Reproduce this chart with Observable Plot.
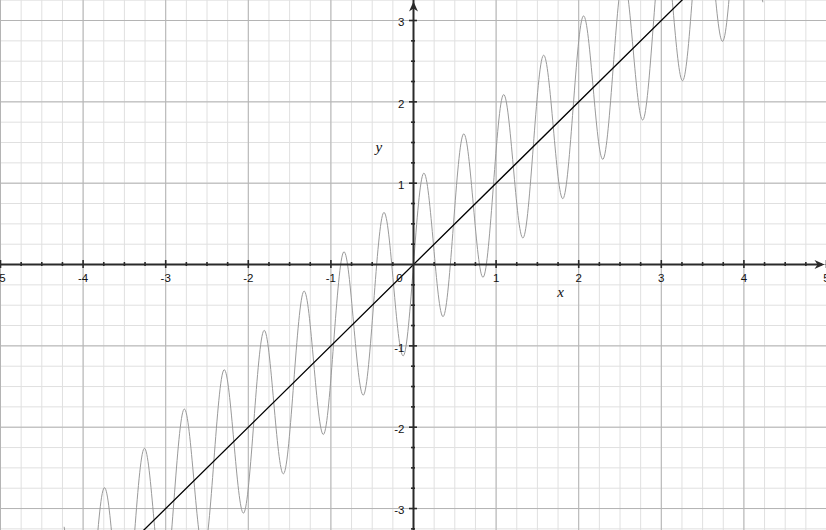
<!DOCTYPE html>
<html>
<head>
<meta charset="utf-8">
<script src="https://cdn.jsdelivr.net/npm/d3@7"></script>
<script src="https://cdn.jsdelivr.net/npm/@observablehq/plot@0.6"></script>
<style>
  html, body { margin: 0; padding: 0; background: #fff; }
  #chart svg { display: block; }
</style>
</head>
<body>
<div id="chart"></div>
<script>
// Axis extents
const xDomain = [-5, 5];
const yDomain = [-3.27, 3.246];

// Tick values and labels
const xMajor = [-5, -4, -3, -2, -1, 1, 2, 3, 4, 5];
const xLabels = ["-5", "-4", "-3", "-2", "-1", "1", "2", "3", "4", "5"];
const yMajor = [-3, -2, -1, 1, 2, 3];
const yLabels = ["-3", "-2", "-1", "1", "2", "3"];
const originLabel = "0";
const xTitle = "x";
const yTitle = "y";
const xTitlePos = [1.78, -0.345];
const yTitlePos = [-0.42, 1.44];

// Straight line y = x (two end points)
const lineX = [-4, 4];
const lineY = [-4, 4];

// Oscillating curve: peaks, troughs and crossings
const curveX = [
  -4.229, -4.108, -3.987, -3.867, -3.746, -3.625, -3.504, -3.383, -3.262, -3.142,
  -3.021, -2.900, -2.779, -2.658, -2.537, -2.417, -2.296, -2.175, -2.054, -1.933,
  -1.812, -1.692, -1.571, -1.450, -1.329, -1.208, -1.087, -0.967, -0.846, -0.725,
  -0.604, -0.483, -0.362, -0.242, -0.121, 0,
  0.121, 0.242, 0.362, 0.483, 0.604, 0.725, 0.846, 0.967, 1.087, 1.208,
  1.329, 1.450, 1.571, 1.692, 1.812, 1.933, 2.054, 2.175, 2.296, 2.417,
  2.537, 2.658, 2.779, 2.900, 3.021, 3.142, 3.262, 3.383, 3.504, 3.625,
  3.746, 3.867, 3.987, 4.108, 4.229
];
const curveY = [
  -3.229, -4.108, -4.987, -3.867, -2.746, -3.625, -4.504, -3.383, -2.262, -3.142,
  -4.021, -2.900, -1.779, -2.658, -3.537, -2.417, -1.296, -2.175, -3.054, -1.933,
  -0.812, -1.692, -2.571, -1.450, -0.329, -1.208, -2.087, -0.967, 0.154, -0.725,
  -1.604, -0.483, 0.638, -0.242, -1.121, 0,
  1.121, 0.242, -0.638, 0.483, 1.604, 0.725, -0.154, 0.967, 2.087, 1.208,
  0.329, 1.450, 2.571, 1.692, 0.812, 1.933, 3.054, 2.175, 1.296, 2.417,
  3.537, 2.658, 1.779, 2.900, 4.021, 3.142, 2.262, 3.383, 4.504, 3.625,
  2.746, 3.867, 4.987, 4.108, 3.229
];

const curve = curveX.map((x, i) => ({x, y: curveY[i]}));
const diag = lineX.map((x, i) => ({x, y: lineY[i]}));

// grid / tick positions derived from the scale
const minorX = d3.range(-20, 21).map(k => k / 4);
const minorY = d3.range(-13, 14).map(k => k / 4);
const minorXTicks = minorX.filter(v => v % 1 !== 0);
const minorYTicks = minorY.filter(v => v % 1 !== 0 && v > yDomain[0] && v < yDomain[1]);
const gridMajorX = xMajor.concat([0]);
const gridMajorY = yMajor.concat([0]);

const axisColor = "#2a2a2a";
const font = "'Liberation Sans', Arial, sans-serif";

// barbed arrowhead symbol, tip at the anchor, pointing up
const arrowHead = {
  draw(context) {
    context.moveTo(0, 0);
    context.lineTo(4.5, 10);
    context.lineTo(0, 7);
    context.lineTo(-4.5, 10);
    context.closePath();
  }
};

const chart = Plot.plot({
  width: 826,
  height: 530,
  margin: 0,
  style: {background: "#fff", fontFamily: font},
  x: {domain: xDomain, axis: null},
  y: {domain: yDomain, axis: null},
  marks: [
    Plot.ruleX(minorX, {x: d => d, stroke: "#e0e0e0", strokeWidth: 1}),
    Plot.ruleY(minorY, {y: d => d, stroke: "#e0e0e0", strokeWidth: 1}),
    Plot.ruleX(gridMajorX, {x: d => d, stroke: "#b4b4b4", strokeWidth: 1}),
    Plot.ruleY(gridMajorY, {y: d => d, stroke: "#b4b4b4", strokeWidth: 1}),
    Plot.line(curve, {x: "x", y: "y", curve: "natural", stroke: "#9a9a9a", strokeWidth: 1, clip: true}),
    Plot.line(diag, {x: "x", y: "y", stroke: "#000", strokeWidth: 1.3, clip: true}),
    // axes
    Plot.ruleY([0], {x1: xDomain[0], x2: xDomain[1], insetRight: 4, stroke: axisColor, strokeWidth: 2}),
    Plot.ruleX([0], {y1: yDomain[0], y2: yDomain[1], insetTop: 4, stroke: axisColor, strokeWidth: 2}),
    // arrowheads
    Plot.dot([0], {x: xDomain[1], y: 0, dx: -2, symbol: arrowHead, rotate: 90, fill: axisColor, stroke: "none"}),
    Plot.dot([0], {x: 0, y: yDomain[1], dy: 1, symbol: arrowHead, fill: axisColor, stroke: "none"}),
    // minor ticks
    Plot.ruleX(minorXTicks, {x: d => d, y1: 0, y2: 0, insetTop: -2, insetBottom: -2, stroke: axisColor, strokeWidth: 1.6}),
    Plot.ruleY(minorYTicks, {y: d => d, x1: 0, x2: 0, insetLeft: -2, insetRight: -2, stroke: axisColor, strokeWidth: 1.6}),
    // major ticks
    Plot.ruleX(xMajor, {x: d => d, y1: 0, y2: 0, insetTop: -4, insetBottom: -4, stroke: axisColor, strokeWidth: 1.6}),
    Plot.ruleY(yMajor, {y: d => d, x1: 0, x2: 0, insetLeft: -4, insetRight: -4, stroke: axisColor, strokeWidth: 1.6}),
    // tick labels
    Plot.text(xMajor, {x: d => d, y: 0, text: (d, i) => xLabels[i], dy: 14, fontSize: 11.5, fill: "#111"}),
    Plot.text(yMajor, {x: 0, y: d => d, text: (d, i) => yLabels[i], dx: -9, dy: 2, textAnchor: "end", fontSize: 11.5, fill: "#111"}),
    Plot.text([originLabel], {x: 0, y: 0, text: d => d, dx: -14, dy: 14, fontSize: 11.5, fill: "#111"}),
    // axis titles
    Plot.text([xTitle], {x: xTitlePos[0], y: xTitlePos[1], text: d => d, fontSize: 15, fontStyle: "italic", fontFamily: "'Liberation Serif', 'Times New Roman', serif", fill: "#111"}),
    Plot.text([yTitle], {x: yTitlePos[0], y: yTitlePos[1], text: d => d, fontSize: 15, fontStyle: "italic", fontFamily: "'Liberation Serif', 'Times New Roman', serif", fill: "#111"})
  ]
});
document.getElementById("chart").append(chart);
</script>
</body>
</html>
